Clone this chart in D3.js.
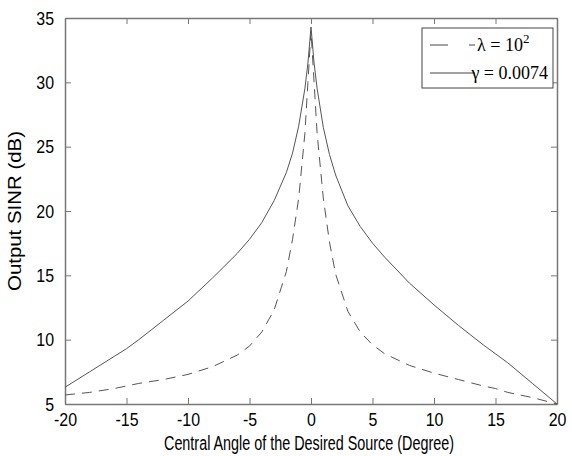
<!DOCTYPE html>
<html>
<head>
<meta charset="utf-8">
<script src="https://cdn.jsdelivr.net/npm/d3@7"></script>
<style>
  body { margin: 0; background: #fff; }
</style>
</head>
<body>
<div id="chart"></div>
<script>
var width = 572,
  height = 456,
  margin = {top: 18, right: 15, bottom: 52, left: 65};

// angles (degree) and output SINR (dB)
var angles = [-20, -18, -16, -15, -14, -12, -10, -8, -6, -5, -4, -3, -2, -1.5, -1, -0.5, -0.25, 0,
  0.25, 0.5, 1, 1.5, 2, 3, 4, 5, 6, 8, 10, 12, 14, 15, 16, 18, 20];
var sinrGamma = [6.3, 7.5, 8.7, 9.3, 10.0, 11.5, 13.0, 14.8, 16.7, 17.8, 19.1, 20.8, 23.0, 24.5, 26.6, 29.5, 31.5, 34.3,
  31.5, 29.5, 26.5, 24.4, 22.8, 20.4, 18.8, 17.5, 16.4, 14.4, 12.7, 11.1, 9.6, 8.9, 8.2, 6.6, 5.0];
var sinrLambda = [5.7, 5.9, 6.2, 6.4, 6.6, 6.9, 7.3, 7.9, 8.8, 9.5, 10.6, 12.3, 15.3, 17.8, 21.0, 26.0, 30.0, 34.0,
  30.0, 26.0, 21.0, 17.6, 15.1, 12.2, 10.6, 9.6, 8.9, 8.0, 7.4, 6.9, 6.4, 6.2, 5.9, 5.5, 5.0];
var xTicks = [-20, -15, -10, -5, 0, 5, 10, 15, 20];
var yTicks = [5, 10, 15, 20, 25, 30, 35];

var w = width - margin.left - margin.right,
  h = height - margin.top - margin.bottom;

var svg = d3.select("#chart")
  .append("svg")
  .attr("width", width)
  .attr("height", height)
  .append("g")
  .attr("transform", "translate(" + margin.left + "," + margin.top + ")");

var x = d3.scaleLinear().domain([-20, 20]).range([0, w]);
var y = d3.scaleLinear().domain([5, 35]).range([h, 0]);

var axisColor = "#777";
var fontFam = '"Liberation Sans", Arial, sans-serif';
var plain = function (d) { return String(d); }; // hyphen, not unicode minus

// axes with inward ticks; labels squeezed a bit to look like a narrow face
function styleAxis(g) {
  g.selectAll(".domain").attr("stroke", axisColor).attr("stroke-width", 1.5);
  g.selectAll(".tick line").attr("stroke", axisColor);
  g.selectAll(".tick text")
    .attr("fill", "#000")
    .style("font-size", "19px")
    .style("font-family", fontFam)
    .attr("transform", "scale(0.84,1)");
}

svg.append("g")
  .attr("transform", "translate(0," + h + ")")
  .call(d3.axisBottom(x).tickValues(xTicks).tickFormat(plain).tickSize(-6).tickPadding(9).tickSizeOuter(0))
  .call(styleAxis);
svg.append("g")
  .call(d3.axisTop(x).tickValues(xTicks).tickSize(-6).tickFormat("").tickSizeOuter(0))
  .call(styleAxis);
svg.append("g")
  .call(d3.axisLeft(y).tickValues(yTicks).tickFormat(plain).tickSize(-6).tickPadding(13).tickSizeOuter(0))
  .call(styleAxis);
svg.append("g")
  .attr("transform", "translate(" + w + ",0)")
  .call(d3.axisRight(y).tickValues(yTicks).tickSize(-6).tickFormat("").tickSizeOuter(0))
  .call(styleAxis);

// curves
var line = d3.line()
  .x(function (d) { return x(d[0]); })
  .y(function (d) { return y(d[1]); });

svg.append("path")
  .datum(angles.map(function (a, i) { return [a, sinrGamma[i]]; }))
  .attr("d", line)
  .attr("fill", "none")
  .attr("stroke", "#555")
  .attr("stroke-width", 1);

svg.append("path")
  .datum(angles.map(function (a, i) { return [a, sinrLambda[i]]; }))
  .attr("d", line)
  .attr("fill", "none")
  .attr("stroke", "#555")
  .attr("stroke-width", 1)
  .attr("stroke-dasharray", "10,7");

// legend
var lg = svg.append("g").attr("transform", "translate(" + (w - 135) + ",10)");
lg.append("rect")
  .attr("width", 131).attr("height", 60)
  .attr("fill", "#fff").attr("stroke", "#444").attr("stroke-width", 1);
lg.append("line").attr("x1", 8).attr("x2", 53).attr("y1", 17).attr("y2", 17)
  .attr("stroke", "#444").attr("stroke-dasharray", "18,21,6,100");
lg.append("line").attr("x1", 8).attr("x2", 53).attr("y1", 45).attr("y2", 45)
  .attr("stroke", "#444");

var t1 = lg.append("text").attr("x", 55).attr("y", 23)
  .style("font-family", '"Liberation Serif", "Times New Roman", serif').style("font-size", "18px");
t1.append("tspan").text("\u03bb = 10");
t1.append("tspan").attr("dy", -8).style("font-size", "13px").text("2");
lg.append("text").attr("x", 126).attr("y", 51)
  .attr("text-anchor", "end")
  .style("font-family", '"Liberation Serif", "Times New Roman", serif').style("font-size", "18px")
  .text("\u03b3 = 0.0074");

// axis labels
svg.append("text")
  .attr("x", w / 2 - 2).attr("y", h + 46)
  .attr("text-anchor", "middle")
  .attr("textLength", 290).attr("lengthAdjust", "spacingAndGlyphs")
  .style("font-family", fontFam).style("font-size", "20px")
  .text("Central Angle of the Desired Source (Degree)");
svg.append("text")
  .attr("transform", "translate(-44," + (h / 2) + ") rotate(-90)")
  .attr("text-anchor", "middle")
  .attr("textLength", 160).attr("lengthAdjust", "spacingAndGlyphs")
  .style("font-family", fontFam).style("font-size", "18px")
  .text("Output SINR (dB)");
</script>
</body>
</html>
